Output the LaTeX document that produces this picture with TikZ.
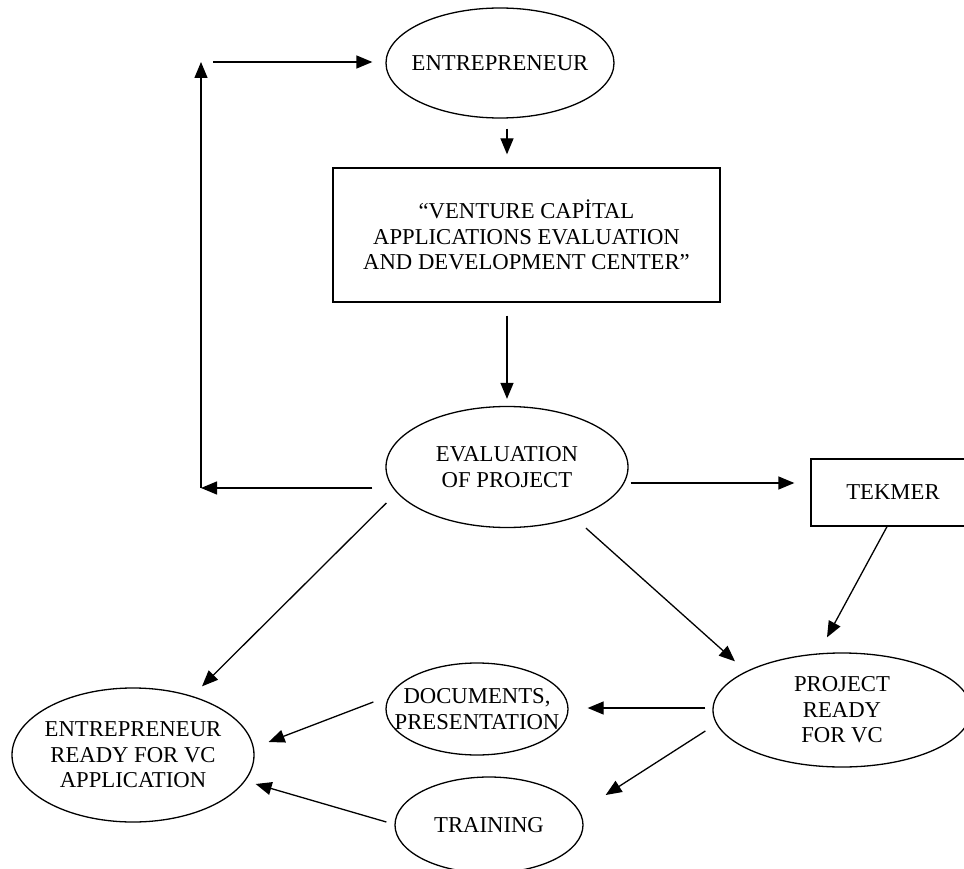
\documentclass[tikz,border=0pt]{standalone}
\usepackage{fontspec}
\setmainfont{Liberation Serif}
\usetikzlibrary{shapes.geometric,arrows.meta,calc}
\begin{document}
\begin{tikzpicture}[x=1pt,y=-1pt,line width=1.3pt,
  font=\fontsize{22.7}{25.5}\selectfont,
  oval/.style={draw,ellipse,align=center,inner xsep=-24pt,inner ysep=0pt},
  box/.style={draw,rectangle,align=center,inner sep=0pt},
  arr/.style={-{Triangle[length=16pt,width=13pt]}}]
\useasboundingbox (0,0) rectangle (964,869);
\node[oval,minimum width=228pt,minimum height=110pt] (entr) at (500,63) {ENTREPRENEUR};
\node[box,minimum width=387pt,minimum height=134pt] (vcbox) at (526.5,235)
  {“VENTURE CAPİTAL\\ APPLICATIONS EVALUATION\\AND DEVELOPMENT CENTER”};
\node[oval,minimum width=242pt,minimum height=121pt] (eval) at (507,467) {EVALUATION\\ OF PROJECT};
\node[box,minimum width=164pt,minimum height=67pt] (tekmer) at (893,492.5) {TEKMER};
\node[oval,minimum width=258pt,minimum height=114pt] (ready) at (842,710) {PROJECT\\READY\\FOR VC};
\node[oval,minimum width=182pt,minimum height=92pt] (docs) at (477,709) {DOCUMENTS,\\PRESENTATION};
\node[oval,minimum width=188pt,minimum height=96pt] (training) at (489,825) {TRAINING};
\node[oval,minimum width=242pt,minimum height=134pt] (entrReady) at (133,755)
  {ENTREPRENEUR\\READY FOR VC\\APPLICATION};
\coordinate (corner) at (201,488);
\coordinate (turn) at (201,62);
% main line
\draw[arr] ($(entr.south)+(7,10)$) -- ($(vcbox.north)+(-19.5,-13)$);
\draw[arr] ($(vcbox.south)+(-19.5,13)$) -- ($(eval.north)+(0,-7)$);
% back to the entrepreneur
\draw[arr] ($(eval.west)+(-13,21)$) -- (corner);
\draw[arr] (corner) -- (turn);
\draw[arr] ($(turn)+(12,0)$) -- ($(entr.west)+(-13,-1)$);
% tekmer
\draw[arr] ($(eval.east)+(2,16)$) -- ($(tekmer.west)+(-16,-9.5)$);
\draw[arr] ($(tekmer.south)+(-6,0)$) -- ($(ready.north)+(-15,-15)$);
\draw[arr] ($(eval.south)+(79,0)$) -- ($(ready.north)+(-107,9)$);
\draw[arr] ($(eval.west)+(1,36)$) -- ($(entrReady.north)+(69,-1)$);
% bottom row
\draw[arr] ($(ready.west)+(-7,-2)$) -- ($(docs.east)+(19,-1)$);
\draw[arr] ($(ready.west)+(-7,21)$) -- ($(training.east)+(22,-30)$);
\draw[arr] ($(docs.west)+(-12,-7)$) -- ($(entrReady.east)+(14,-13)$);
\draw[arr] ($(training.west)+(-8,-3)$) -- ($(entrReady.east)+(1,29)$);
\end{tikzpicture}
\end{document}
